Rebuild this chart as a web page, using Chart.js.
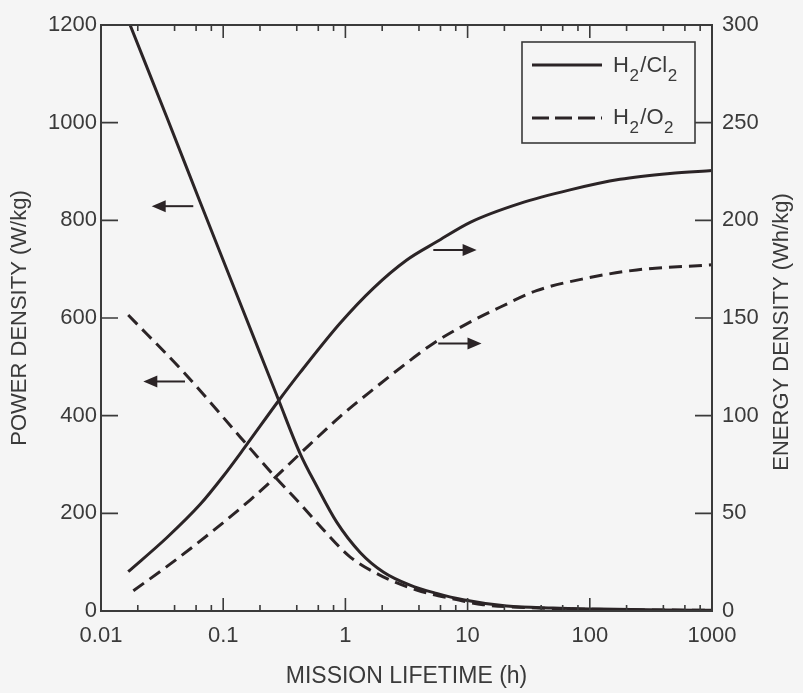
<!DOCTYPE html>
<html><head><meta charset="utf-8">
<script src="https://cdn.jsdelivr.net/npm/chart.js@4.4.1/dist/chart.umd.min.js"></script>
<style>html,body{margin:0;padding:0;background:#f5f5f5;}#wrap{width:803px;height:693px;}</style>
</head><body><div id="wrap"><canvas id="c" width="803" height="693"></canvas></div>
<script>
// ---- data ----
const xTickValues = [0.01, 0.1, 1, 10, 100, 1000];
const xTickLabels = ['0.01', '0.1', '1', '10', '100', '1000'];
const seriesNames = ['H2/Cl2', 'H2/O2'];

// Power density (W/kg), left axis
const cl2PowerX = [0.0173, 0.0347, 0.0646, 0.1137, 0.2, 0.283, 0.425, 0.582, 0.849, 1.32, 2.04, 3.38, 5.58, 9.2, 20.9, 50, 120, 400, 1000];
const cl2PowerY = [1200, 1010, 838, 683, 528, 433, 323, 256, 182, 120, 80, 53, 36, 23, 10, 6, 4, 2, 1.5];
const o2PowerX = [0.0167, 0.0471, 0.137, 0.265, 0.425, 0.703, 1.09, 2.04, 3.83, 7.2, 13.4, 30, 100, 400, 1000];
const o2PowerY = [606, 490, 357, 275, 220, 159, 111, 70, 43, 26, 13, 7, 3.5, 2, 1.5];

// Energy density (Wh/kg), right axis
const cl2EnergyX = [0.0167, 0.0345, 0.0646, 0.1, 0.151, 0.283, 0.425, 0.904, 1.69, 3.18, 5.58, 10.5, 26.9, 68.9, 176.6, 453, 1000];
const cl2EnergyY = [20.1, 37.5, 54.5, 69, 84, 107.5, 122, 147.3, 165.2, 179.7, 189, 199, 208.7, 215.6, 221, 224, 225.5];
const o2EnergyX = [0.0184, 0.0345, 0.078, 0.166, 0.257, 0.425, 0.904, 1.69, 3.18, 5.24, 9.84, 18.4, 36.7, 94.4, 242, 1000];
const o2EnergyY = [10.4, 22.7, 39.8, 56.8, 67.5, 80.5, 99.5, 113.5, 127, 137, 147, 155.5, 164, 170.4, 174.6, 177.2];

// Annotation arrows (data coordinates)
const arrowTailX = [0.0569, 0.0487, 5.24, 5.75];
const arrowTipX  = [0.026, 0.0222, 11.86, 13.0];
const arrowY     = [829, 470, 184.8, 137];
const arrowAxis  = ['yL', 'yL', 'yR', 'yR'];

// ---- styling ----
const INK = '#2b2426';
const AXIS = '#3a3a3a';
const TEXT = '#3a3a3a';
const FONT = "'Liberation Sans', Arial, Helvetica, sans-serif";
const DASH = [13, 7];

const pts = (xs, ys) => xs.map((x, i) => ({x: x, y: ys[i]}));

function drawSubLabel(ctx, x, y, parts, size, subSize) {
  let cx = x;
  for (const [t, sub] of parts) {
    ctx.font = (sub ? subSize : size) + 'px ' + FONT;
    ctx.fillText(t, cx, sub ? y + size * 0.42 : y);
    cx += ctx.measureText(t).width + (sub ? 1.5 : 0.5);
  }
}

const decor = {
  id: 'decor',
  beforeDraw(chart) {
    const {ctx, width, height} = chart;
    ctx.save(); ctx.fillStyle = '#f5f5f5'; ctx.fillRect(0, 0, width, height); ctx.restore();
  },
  afterDraw(chart) {
    const {ctx, chartArea: a, scales} = chart;
    const xs = scales.x, yl = scales.yL, yr = scales.yR;
    ctx.save();
    // frame
    ctx.strokeStyle = AXIS; ctx.lineWidth = 2;
    ctx.strokeRect(a.left, a.top, a.right - a.left, a.bottom - a.top);
    // ticks
    ctx.lineWidth = 1.6;
    ctx.beginPath();
    for (let e = -2; e <= 3; e++) {
      for (const m of [1, 2, 4, 6, 8]) {
        const v = m * Math.pow(10, e);
        if (v > 1000.001) continue;
        const px = xs.getPixelForValue(v);
        const len = m === 1 ? 13 : 6;
        ctx.moveTo(px, a.bottom); ctx.lineTo(px, a.bottom - len);
        ctx.moveTo(px, a.top); ctx.lineTo(px, a.top + len);
      }
    }
    yl.ticks.forEach(t => {
      if (t.value <= yl.min || t.value >= yl.max) return;
      const py = yl.getPixelForValue(t.value);
      ctx.moveTo(a.left, py); ctx.lineTo(a.left + 17, py);
    });
    yr.ticks.forEach(t => {
      if (t.value <= yr.min || t.value >= yr.max) return;
      const py = yr.getPixelForValue(t.value);
      ctx.moveTo(a.right, py); ctx.lineTo(a.right - 17, py);
    });
    ctx.stroke();

    // arrows
    ctx.strokeStyle = INK; ctx.fillStyle = INK; ctx.lineWidth = 2;
    for (let i = 0; i < arrowTailX.length; i++) {
      const ys = scales[arrowAxis[i]];
      const x0 = xs.getPixelForValue(arrowTailX[i]);
      const x1 = xs.getPixelForValue(arrowTipX[i]);
      const py = ys.getPixelForValue(arrowY[i]);
      const dir = Math.sign(x1 - x0);
      const head = 14, hw = 6;
      ctx.beginPath(); ctx.moveTo(x0, py); ctx.lineTo(x1 - dir * head * 0.8, py); ctx.stroke();
      ctx.beginPath();
      ctx.moveTo(x1, py);
      ctx.lineTo(x1 - dir * head, py - hw);
      ctx.lineTo(x1 - dir * head, py + hw);
      ctx.closePath(); ctx.fill();
    }

    // legend
    const bx = a.right - 190, by = a.top + 17, bw = 173, bh = 101;
    ctx.fillStyle = '#f5f5f5';
    ctx.fillRect(bx, by, bw, bh);
    ctx.strokeStyle = AXIS; ctx.lineWidth = 1.6;
    ctx.strokeRect(bx, by, bw, bh);
    ctx.strokeStyle = INK; ctx.lineWidth = 3;
    ctx.beginPath(); ctx.moveTo(bx + 10, by + 23); ctx.lineTo(bx + 80, by + 23); ctx.stroke();
    ctx.setLineDash([17, 6]);
    ctx.beginPath(); ctx.moveTo(bx + 10, by + 76); ctx.lineTo(bx + 80, by + 76); ctx.stroke();
    ctx.setLineDash([]);
    ctx.fillStyle = TEXT; ctx.textBaseline = 'alphabetic'; ctx.textAlign = 'left';
    drawSubLabel(ctx, bx + 91, by + 30, [['H', false], ['2', true], ['/Cl', false], ['2', true]], 22, 17);
    drawSubLabel(ctx, bx + 91, by + 82, [['H', false], ['2', true], ['/O', false], ['2', true]], 22, 17);

    // right axis title (reads bottom-to-top)
    ctx.save();
    ctx.translate(yr.right - 21, (a.top + a.bottom) / 2 + 14);
    ctx.rotate(-Math.PI / 2);
    ctx.font = '22px ' + FONT; ctx.fillStyle = TEXT;
    ctx.textAlign = 'center'; ctx.textBaseline = 'middle';
    ctx.fillText('ENERGY DENSITY (Wh/kg)', 0, 0);
    ctx.restore();
    ctx.restore();
  }
};

Chart.defaults.font.family = FONT;
Chart.defaults.color = TEXT;

const plain = v => String(v);

new Chart(document.getElementById('c'), {
  type: 'line',
  data: {
    datasets: [
      {label: seriesNames[0] + ' power', data: pts(cl2PowerX, cl2PowerY), yAxisID: 'yL', borderColor: INK, borderWidth: 3, pointRadius: 0, cubicInterpolationMode: 'monotone', fill: false},
      {label: seriesNames[1] + ' power', data: pts(o2PowerX, o2PowerY), yAxisID: 'yL', borderColor: INK, borderWidth: 3, borderDash: DASH, pointRadius: 0, cubicInterpolationMode: 'monotone', fill: false},
      {label: seriesNames[0] + ' energy', data: pts(cl2EnergyX, cl2EnergyY), yAxisID: 'yR', borderColor: INK, borderWidth: 3, pointRadius: 0, cubicInterpolationMode: 'monotone', fill: false},
      {label: seriesNames[1] + ' energy', data: pts(o2EnergyX, o2EnergyY), yAxisID: 'yR', borderColor: INK, borderWidth: 3, borderDash: DASH, pointRadius: 0, cubicInterpolationMode: 'monotone', fill: false}
    ]
  },
  options: {
    responsive: false,
    animation: false,
    devicePixelRatio: 1,
    layout: {padding: {top: 25, left: 0, right: 0, bottom: 0}},
    plugins: {legend: {display: false}, tooltip: {enabled: false}},
    scales: {
      x: {
        type: 'logarithmic', position: 'bottom', min: 0.01, max: 1000,
        afterBuildTicks: s => { s.ticks = xTickValues.map(v => ({value: v})); },
        afterFit: s => { s.height = 82; },
        grid: {display: false, drawTicks: false},
        border: {display: false},
        ticks: {
          font: {size: 22}, color: TEXT, padding: 12, maxRotation: 0, autoSkip: false,
          callback: (v) => { const i = xTickValues.findIndex(t => Math.abs(t - v) / t < 1e-6); return i >= 0 ? xTickLabels[i] : ''; }
        },
        title: {display: true, text: 'MISSION LIFETIME (h)', font: {size: 23}, color: TEXT, padding: {top: 0, bottom: 3}}
      },
      yL: {
        type: 'linear', position: 'left', min: 0, max: 1200,
        afterFit: s => { s.width = 101; },
        grid: {display: false, drawTicks: false},
        border: {display: false},
        ticks: {stepSize: 200, font: {size: 22}, color: TEXT, padding: 4, callback: plain},
        title: {display: true, text: 'POWER DENSITY (W/kg)', font: {size: 22}, color: TEXT, padding: {top: 7, bottom: 0}}
      },
      yR: {
        type: 'linear', position: 'right', min: 0, max: 300,
        afterFit: s => { s.width = 91; },
        grid: {display: false, drawTicks: false},
        border: {display: false},
        ticks: {stepSize: 50, font: {size: 22}, color: TEXT, padding: 10, callback: plain}
      }
    }
  },
  plugins: [decor]
});
</script>
</body></html>
